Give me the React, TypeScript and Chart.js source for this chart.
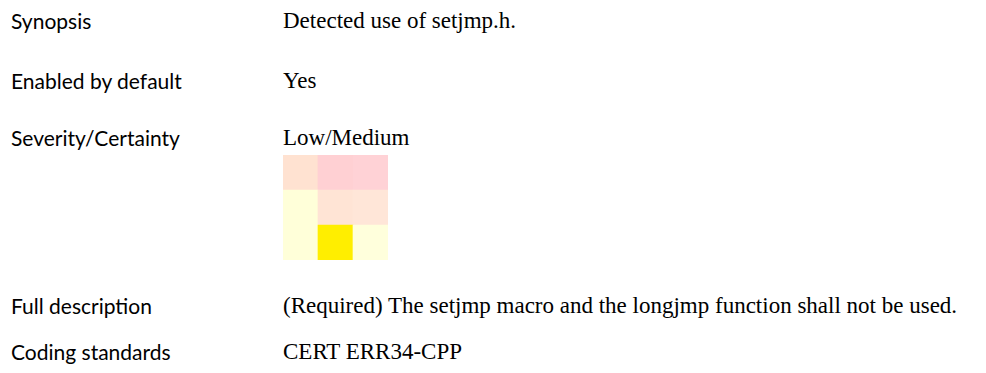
import React, { useEffect, useRef } from "react";
import { Chart, registerables } from "chart.js";

Chart.register(...registerables);

const labels = ["Synopsis", "Enabled by default", "Severity/Certainty", "Full description", "Coding standards"];
const values = [
  "Detected use of setjmp.h.",
  "Yes",
  "Low/Medium",
  "(Required) The setjmp macro and the longjmp function shall not be used.",
  "CERT ERR34-CPP",
];
const rowCenters = [21, 81, 138, 306, 352];

const columns = ["c1", "c2", "c3"];
// rows listed bottom to top
const rowBottom = ["#FFFFD9", "#FFEE00", "#FFFFDC"];
const rowMiddle = ["#FFFFD9", "#FFE4D5", "#FFE6D8"];
const rowTop = ["#FFE2D1", "#FFD0D3", "#FFD2D6"];
const cellValue = [1, 1, 1];

function Heatmap() {
  const ref = useRef<HTMLCanvasElement | null>(null);
  useEffect(() => {
    if (!ref.current) return;
    const rows = [rowBottom, rowMiddle, rowTop];
    const chart = new Chart(ref.current, {
      type: "bar",
      data: {
        labels: columns,
        datasets: rows.map((colors, i) => ({
          label: "r" + i,
          data: cellValue,
          backgroundColor: colors,
          borderWidth: 0,
          barPercentage: 1,
          categoryPercentage: 1,
        })),
      },
      options: {
        animation: false,
        responsive: false,
        maintainAspectRatio: false,
        layout: { padding: 0 },
        plugins: { legend: { display: false }, tooltip: { enabled: false } },
        scales: {
          x: { stacked: true, display: false },
          y: { stacked: true, display: false, min: 0, max: 3 },
        },
      },
    });
    return () => chart.destroy();
  }, []);
  return (
    <canvas
      ref={ref}
      width={105}
      height={105}
      style={{ position: "absolute", left: 283, top: 155, width: 105, height: 105 }}
    />
  );
}

export default function App() {
  return (
    <div style={{ position: "absolute", left: 0, top: 0, width: 986, height: 373, background: "#fff", overflow: "hidden" }}>
      {labels.map((l, i) => (
        <div
          key={l}
          style={{
            position: "absolute",
            left: 11,
            top: rowCenters[i] - 15,
            fontFamily: "Lato, 'Noto Sans', sans-serif",
            fontSize: 21,
            lineHeight: "30px",
            color: "#000",
            whiteSpace: "nowrap",
          }}
        >
          {l}
        </div>
      ))}
      {values.map((v, i) => (
        <div
          key={v}
          style={{
            position: "absolute",
            left: 283,
            top: rowCenters[i] - 15,
            fontFamily: "'Liberation Serif', serif",
            fontSize: 23,
            lineHeight: "30px",
            color: "#000",
            whiteSpace: "nowrap",
          }}
        >
          {v}
        </div>
      ))}
      <Heatmap />
    </div>
  );
}
